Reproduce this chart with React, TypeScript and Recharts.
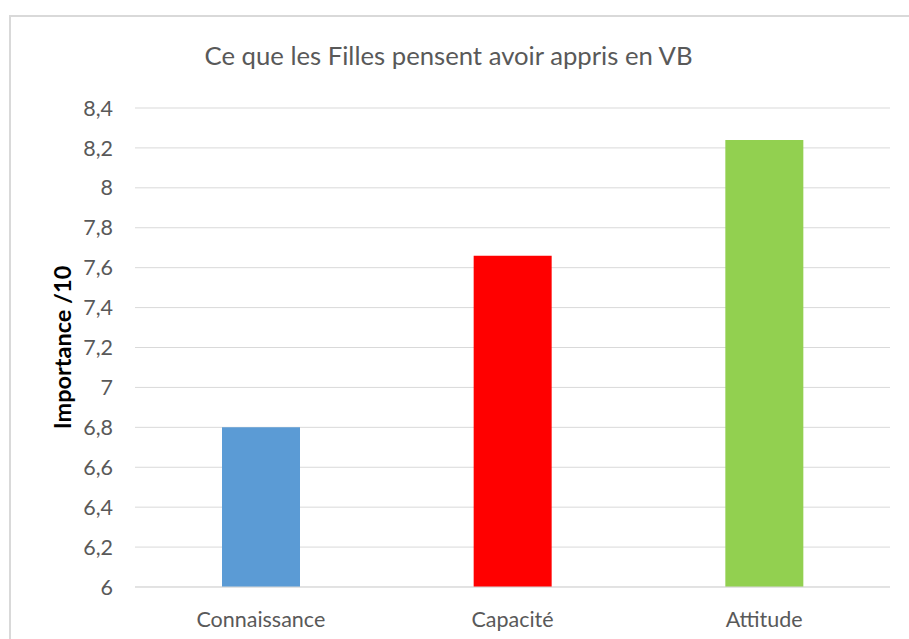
import { Bar, BarChart, CartesianGrid, Cell, XAxis, YAxis } from "recharts";

const categories = ["Connaissance", "Capacité", "Attitude"];
const importance = [6.8, 7.66, 8.24];
const barColors = ["#5B9BD5", "#FF0000", "#92D050"];
const yTicks = [6, 6.2, 6.4, 6.6, 6.8, 7, 7.2, 7.4, 7.6, 7.8, 8, 8.2, 8.4];

const data = categories.map((category, i) => ({ category, importance: importance[i] }));

const FONT = "Lato, 'Open Sans', sans-serif";

export default function App() {
  return (
    <div
      style={{
        position: "absolute",
        left: 0,
        top: 0,
        width: 909,
        height: 639,
        overflow: "hidden",
        background: "#fff",
        fontFamily: FONT,
      }}
    >
      <div
        style={{
          position: "absolute",
          left: 9,
          top: 15,
          width: 1000,
          height: 700,
          border: "2px solid #d9d9d9",
        }}
      />
      <div
        style={{
          position: "absolute",
          left: 0,
          top: 40,
          width: 897,
          textAlign: "center",
          fontSize: 25.7,
          color: "#595959",
        }}
      >
        Ce que les Filles pensent avoir appris en VB
      </div>
      <div style={{ position: "absolute", left: 0, top: 0 }}>
        <BarChart width={909} height={639} data={data} margin={{ top: 108, right: 19, left: 55, bottom: 22 }}>
          <CartesianGrid stroke="#d9d9d9" vertical={false} />
          <XAxis
            dataKey="category"
            height={30}
            axisLine={{ stroke: "#d9d9d9" }}
            tickLine={false}
            tickSize={0}
            tickMargin={25}
            tick={{ fill: "#595959", fontSize: 21.5, fontFamily: FONT }}
          />
          <YAxis
            type="number"
            domain={[6, 8.4]}
            ticks={yTicks}
            width={80}
            axisLine={false}
            tickLine={false}
            tickSize={0}
            tickMargin={22}
            interval={0}
            tickFormatter={(v: number) => String(v).replace(".", ",")}
            tick={{ fill: "#595959", fontSize: 21.5, fontFamily: FONT }}
            label={{
              content: ({ viewBox }: any) => {
                const cx = viewBox.x + 7;
                const cy = viewBox.y + viewBox.height / 2;
                return (
                  <text
                    x={cx}
                    y={cy}
                    transform={`rotate(-90 ${cx} ${cy})`}
                    textAnchor="middle"
                    dominantBaseline="central"
                    fontSize={23.5}
                    fontWeight="bold"
                    fill="#000"
                    fontFamily={FONT}
                  >
                    Importance /10
                  </text>
                );
              },
            }}
          />
          <Bar dataKey="importance" barSize={78} isAnimationActive={false}>
            {data.map((d, i) => (
              <Cell key={d.category} fill={barColors[i]} />
            ))}
          </Bar>
        </BarChart>
      </div>
    </div>
  );
}
